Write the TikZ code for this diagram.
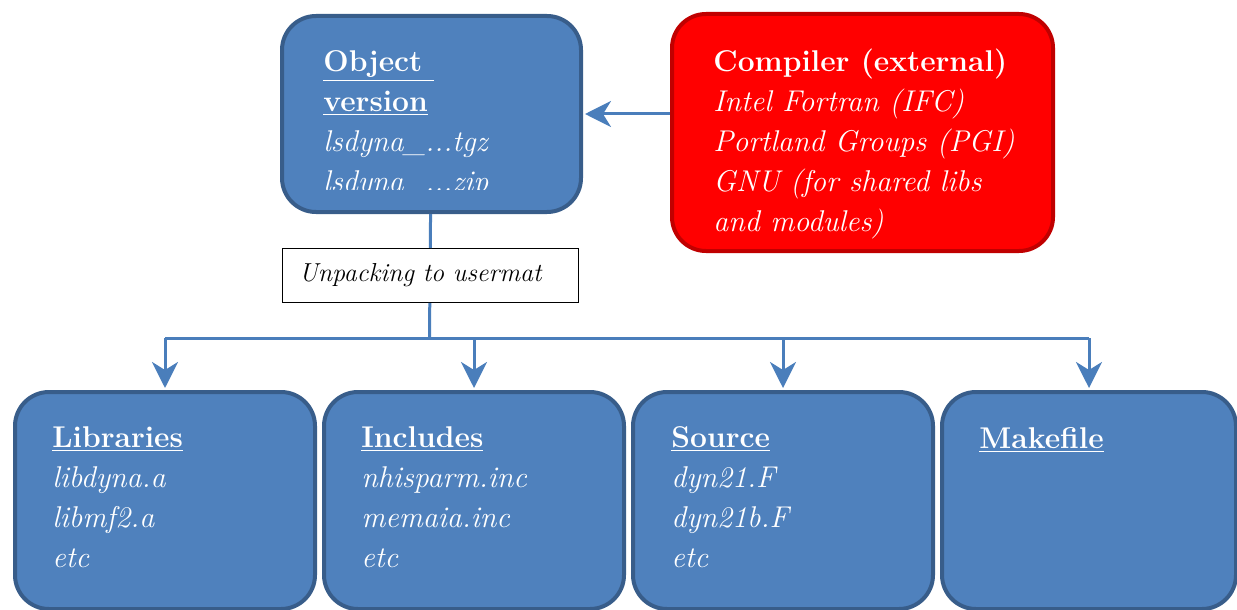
\documentclass[tikz,border=0pt]{standalone}
\usetikzlibrary{positioning,arrows.meta}
\usepackage{xcolor}
\definecolor{boxblue}{RGB}{79,129,189}
\definecolor{boxblue2}{RGB}{56,93,138}
\definecolor{lineblue}{RGB}{74,126,187}
\definecolor{boxred}{RGB}{255,0,0}
\definecolor{boxred2}{RGB}{192,0,0}
\tikzset{
  bluebox/.style={draw=boxblue2, line width=2pt, rounded corners=17pt, fill=boxblue, anchor=north west, inner sep=0pt},
  redbox/.style={draw=boxred2, line width=2pt, rounded corners=17pt, fill=boxred, anchor=north west, inner sep=0pt},
  notebox/.style={draw=black, line width=0.5pt, fill=white, anchor=north west, inner xsep=8.5pt, inner ysep=0pt, align=left, font=\fontsize{13}{16}\selectfont\itshape},
  boxtext/.style={text=white, align=left, anchor=north west, inner sep=0pt, font=\fontsize{15}{20}\selectfont, execute at begin node=\strut},
  arrow/.style={-{Stealth[length=13pt,width=13pt,inset=4pt]}, line width=1.5pt, draw=lineblue, shorten >=1pt},
  link/.style={line width=1.5pt, draw=lineblue}
}

\begin{document}
\begin{tikzpicture}[x=0.5pt, y=-0.5pt]
\useasboundingbox (0,0) rectangle (1237,610);
% top row
\node[bluebox, minimum width=149.5pt, minimum height=98pt] (obj) at (280,14) {};
\begin{scope}
\clip (280,14) rectangle (579,189);
\node[boxtext] (objtxt) at (323,50) {\textbf{\underline{Object }}\\\textbf{\underline{version}}\\\textit{lsdyna\_...tgz}\\\textit{lsdyna\_...zip}};
\end{scope}
\node[redbox, minimum width=190.5pt, minimum height=118.5pt] (comp) at (670,12) {};
\node[boxtext] (comptxt) at (713,49) {\textbf{Compiler (external)}\\\textit{Intel Fortran (IFC)}\\\textit{Portland Groups (PGI)}\\\textit{GNU (for shared libs}\\\textit{and modules)}};
\draw[arrow] (comp.west |- obj) -- (obj);
% unpacking
\node[notebox, text width=131pt, minimum height=27pt] (unpack) at (281.5,248) {Unpacking to usermat};
\coordinate (split) at (429.5,338);
\draw[link] (obj) -- (unpack);
\draw[link] (unpack) -- (split);
% bottom row
\foreach \name/\x in {lib/13,inc/322,src/631}{
  \node[bluebox, minimum width=150pt, minimum height=108.5pt] (\name) at (\x,390) {};
}
\node[bluebox, minimum width=147pt, minimum height=108.5pt] (mk) at (940,390) {};
\node[boxtext] (libtxt) at (52,426) {\textbf{\underline{Libraries}}\\\textit{libdyna.a}\\\textit{libmf2.a}\\\textit{etc}};
\node[boxtext] (inctxt) at (361,426) {\textbf{\underline{Includes}}\\\textit{nhisparm.inc}\\\textit{memaia.inc}\\\textit{etc}};
\node[boxtext] (srctxt) at (671,426) {\textbf{\underline{Source}}\\\textit{dyn21.F}\\\textit{dyn21b.F}\\\textit{etc}};
\node[boxtext] (mktxt) at (979,420) {\textbf{\underline{Makefile}}};
\draw[link] (split -| lib) -- (split -| mk);
\foreach \b in {lib,inc,src,mk}{\draw[arrow] (split -| \b) -- (\b);}
\end{tikzpicture}
\end{document}
